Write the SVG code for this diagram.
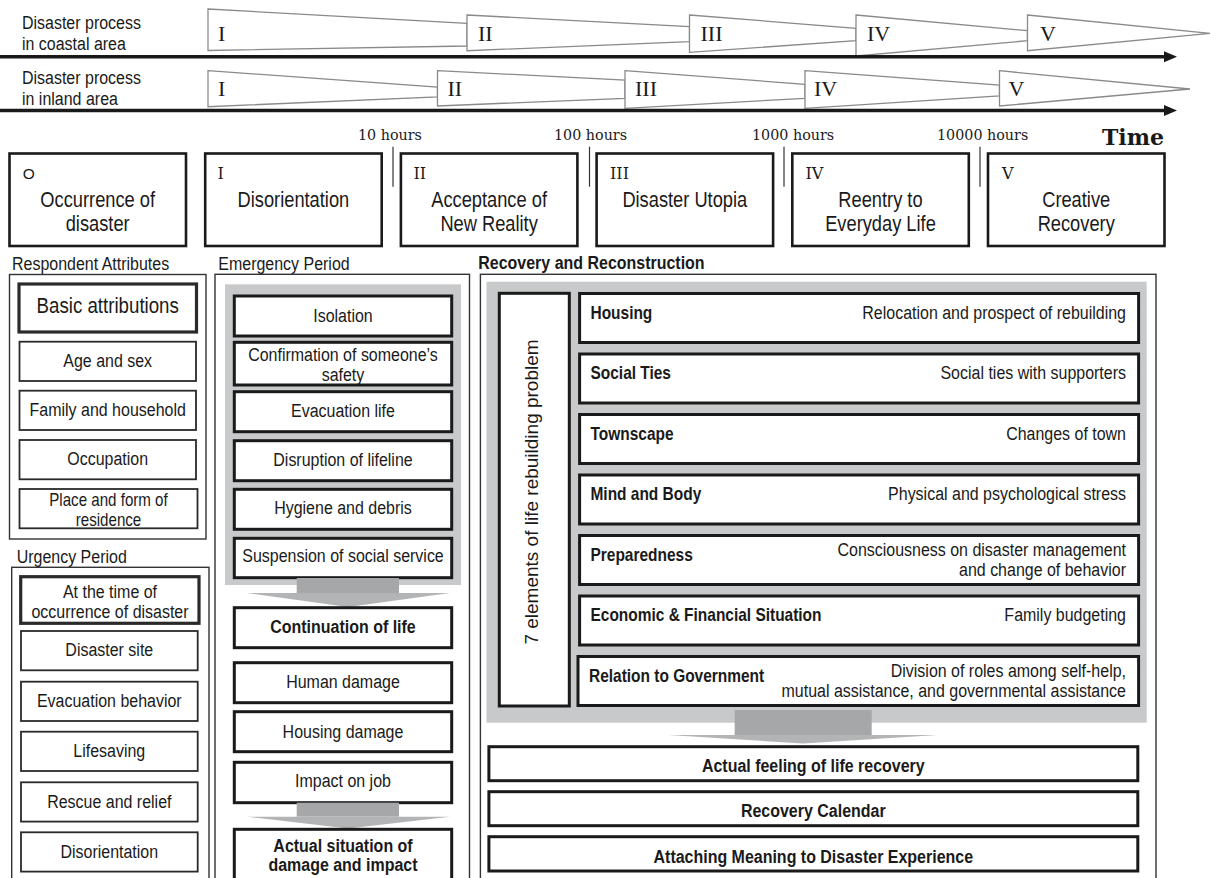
<svg xmlns="http://www.w3.org/2000/svg" width="1211" height="878" viewBox="0 0 1211 878">
<style>
.sans{font-family:"Liberation Sans",Arial,sans-serif;fill:#1a1a1a}
.lbl{font-family:"Liberation Sans",Arial,sans-serif;font-size:18.8px;fill:#1a1a1a}
.lblb{font-family:"Liberation Sans",Arial,sans-serif;font-size:18.8px;font-weight:bold;fill:#1a1a1a}
.rn{font-family:"Liberation Serif","Times New Roman",serif;font-size:22px;fill:#1a1a1a}
.dser{font-family:"DejaVu Serif",serif;fill:#1a1a1a}
.hrs{font-family:"DejaVu Serif",serif;font-size:14.3px;fill:#1a1a1a}
.pn{font-family:"DejaVu Serif",serif;font-size:16px;fill:#1a1a1a}
.ph{font-family:"Liberation Sans",Arial,sans-serif;font-size:21.5px;text-anchor:middle;fill:#1a1a1a}
.wedge{fill:#fff;stroke:#8a8a8a;stroke-width:1.3}
.pbox{fill:#fff;stroke:#1a1a1a;stroke-width:2.6}
.panel{fill:none;stroke:#333;stroke-width:1.4}
.box{fill:#fff;stroke:#2a2a2a;stroke-width:1.8}
.tbox{fill:#fff;stroke:#1a1a1a;stroke-width:3}
.t{font-family:"Liberation Sans",Arial,sans-serif;font-size:18.8px;text-anchor:middle;fill:#1a1a1a}
.tb{font-family:"Liberation Sans",Arial,sans-serif;font-size:18.8px;font-weight:bold;text-anchor:middle;fill:#1a1a1a}
.big{font-family:"Liberation Sans",Arial,sans-serif;font-size:22px;text-anchor:middle;fill:#1a1a1a}
.vt{font-family:"Liberation Sans",Arial,sans-serif;font-size:19px;text-anchor:middle;fill:#1a1a1a}
.e{font-family:"Liberation Sans",Arial,sans-serif;font-size:18.8px;text-anchor:end;fill:#1a1a1a}
.et{font-family:"Liberation Sans",Arial,sans-serif;font-size:18.2px;font-weight:bold;fill:#1a1a1a}
.gray{fill:#c8c9ca}
.stem{fill:#a6a7a8}
.head{fill:#b3b4b5}
.tick{stroke:#333;stroke-width:1.2}
.axis{stroke:#1a1a1a;stroke-width:3.5}
</style>

<g id="timeline-coastal">
<text class="lbl" transform="scale(0.85,1)" x="25.88" y="29">Disaster process</text>
<text class="lbl" transform="scale(0.85,1)" x="25.88" y="50">in coastal area</text>
<polygon class="wedge" points="208,9 467,23.3 467,46 208,50.5"/>
<polygon class="wedge" points="467,15 689.5,26.7 689.5,41.7 467,50.7"/>
<polygon class="wedge" points="689.5,15 856,28.3 856,40.7 689.5,52.3"/>
<polygon class="wedge" points="856,15 1027.5,30.7 1027.5,40.7 856,56"/>
<polygon class="wedge" points="1027.5,15 1210,33.3 1027.5,50.7"/>
<text class="rn" x="218" y="41">I</text>
<text class="rn" x="478" y="41">II</text>
<text class="rn" x="700.5" y="41">III</text>
<text class="rn" x="867" y="41">IV</text>
<text class="rn" x="1040" y="41">V</text>
</g>

<g id="timeline-inland">
<text class="lbl" transform="scale(0.85,1)" x="25.88" y="84">Disaster process</text>
<text class="lbl" transform="scale(0.85,1)" x="25.88" y="105">in inland area</text>
<polygon class="wedge" points="208,70.7 437.5,87 437.5,97 208,106.7"/>
<polygon class="wedge" points="437.5,70.7 625,80 625,98.3 437.5,106"/>
<polygon class="wedge" points="625,70.7 805,84.3 805,98.3 625,108.3"/>
<polygon class="wedge" points="805,70.7 999.5,85 999.5,96 805,108.3"/>
<polygon class="wedge" points="999.5,70.7 1190,89 999.5,106"/>
<text class="rn" x="218" y="95.5">I</text>
<text class="rn" x="447.5" y="95.5">II</text>
<text class="rn" x="635" y="95.5">III</text>
<text class="rn" x="814" y="95.5">IV</text>
<text class="rn" x="1008.5" y="95.5">V</text>
</g>

<g id="connectors">
<line class="axis" x1="0" y1="56.8" x2="1167" y2="56.8"/>
<polygon points="1164,51.3 1177,56.8 1164,62.3" fill="#1a1a1a"/>
<line class="axis" x1="0" y1="110.5" x2="1167" y2="110.5"/>
<polygon points="1164,105 1177,110.5 1164,116" fill="#1a1a1a"/>
<line class="tick" x1="393" y1="146.7" x2="393" y2="186.7"/>
<line class="tick" x1="589.5" y1="146.7" x2="589.5" y2="186.7"/>
<line class="tick" x1="784" y1="146.7" x2="784" y2="186.7"/>
<line class="tick" x1="980" y1="146.7" x2="980" y2="186.7"/>
</g>

<g id="time-scale">
<text class="hrs" x="358" y="140">10 hours</text>
<text class="hrs" x="554" y="140">100 hours</text>
<text class="hrs" x="752" y="140">1000 hours</text>
<text class="hrs" x="937" y="140">10000 hours</text>
<text class="dser" style="font-size:22px;font-weight:bold" text-anchor="end" x="1164" y="145">Time</text>
</g>

<g id="phase-0">
<rect class="pbox" x="9.5" y="153.5" width="176.5" height="92.5"/>
<text class="sans" style="font-size:15.5px" x="22.7" y="178.5">O</text>
<text class="ph" transform="scale(0.85,1)" x="114.94" y="206.7">Occurrence of</text>
<text class="ph" transform="scale(0.85,1)" x="114.94" y="230.7">disaster</text>
</g>
<g id="phase-1">
<rect class="pbox" x="205.2" y="153.5" width="176.5" height="92.5"/>
<text class="pn" x="217.5" y="178.5">I</text>
<text class="ph" transform="scale(0.85,1)" x="345.18" y="206.7">Disorientation</text>
</g>
<g id="phase-2">
<rect class="pbox" x="400.9" y="153.5" width="176.5" height="92.5"/>
<text class="pn" x="413.5" y="178.5">II</text>
<text class="ph" transform="scale(0.85,1)" x="575.41" y="206.7">Acceptance of</text>
<text class="ph" transform="scale(0.85,1)" x="575.41" y="230.7">New Reality</text>
</g>
<g id="phase-3">
<rect class="pbox" x="596.6" y="153.5" width="176.5" height="92.5"/>
<text class="pn" x="610" y="178.5">III</text>
<text class="ph" transform="scale(0.85,1)" x="805.65" y="206.7">Disaster Utopia</text>
</g>
<g id="phase-4">
<rect class="pbox" x="792.3" y="153.5" width="176.5" height="92.5"/>
<text class="pn" x="805.5" y="178.5">IV</text>
<text class="ph" transform="scale(0.85,1)" x="1035.88" y="206.7">Reentry to</text>
<text class="ph" transform="scale(0.85,1)" x="1035.88" y="230.7">Everyday Life</text>
</g>
<g id="phase-5">
<rect class="pbox" x="988" y="153.5" width="176.5" height="92.5"/>
<text class="pn" x="1002" y="178.5">V</text>
<text class="ph" transform="scale(0.85,1)" x="1266.12" y="206.7">Creative</text>
<text class="ph" transform="scale(0.85,1)" x="1266.12" y="230.7">Recovery</text>
</g>

<g id="respondent-attributes">
<text class="lbl" transform="scale(0.85,1)" x="14.12" y="270">Respondent Attributes</text>
<rect class="panel" x="9.5" y="274.5" width="196.5" height="264.5"/>
<rect class="box" x="19" y="284" width="177.5" height="48" style="stroke-width:3.2"/>
<text class="big" transform="scale(0.85,1)" x="126.71" y="313.3">Basic attributions</text>
<rect class="box" x="19.5" y="341.7" width="176.5" height="39.3"/>
<text class="t" transform="scale(0.85,1)" x="126.71" y="366.7">Age and sex</text>
<rect class="box" x="19.5" y="390.7" width="176.5" height="39.3"/>
<text class="t" transform="scale(0.85,1)" x="126.71" y="415.7">Family and household</text>
<rect class="box" x="19.5" y="440" width="176.5" height="39.3"/>
<text class="t" transform="scale(0.85,1)" x="126.71" y="465">Occupation</text>
<rect class="box" x="19.5" y="489" width="178" height="39.3"/>
<text class="t" style="font-size:17.8px" transform="scale(0.85,1)" x="127.65" y="506.5">Place and form of</text>
<text class="t" style="font-size:17.8px" transform="scale(0.85,1)" x="127.65" y="526">residence</text>
</g>

<g id="urgency-period">
<text class="lbl" transform="scale(0.85,1)" x="19.65" y="563">Urgency Period</text>
<rect class="panel" x="11.7" y="567.3" width="197.3" height="330"/>
<rect class="box" x="20.7" y="576.7" width="178.3" height="46.6" style="stroke-width:3.2"/>
<text class="t" transform="scale(0.85,1)" x="129.41" y="598.3">At the time of</text>
<text class="t" transform="scale(0.85,1)" x="129.41" y="617.7">occurrence of disaster</text>
<rect class="box" x="21" y="631" width="176.7" height="39.3"/>
<text class="t" transform="scale(0.85,1)" x="128.59" y="655.7">Disaster site</text>
<rect class="box" x="21" y="681.7" width="176.7" height="39.3"/>
<text class="t" transform="scale(0.85,1)" x="128.59" y="706.7">Evacuation behavior</text>
<rect class="box" x="21" y="731.7" width="176.7" height="39.3"/>
<text class="t" transform="scale(0.85,1)" x="128.59" y="756.7">Lifesaving</text>
<rect class="box" x="21" y="782.3" width="176.7" height="39.3"/>
<text class="t" transform="scale(0.85,1)" x="128.59" y="808.3">Rescue and relief</text>
<rect class="box" x="21" y="832.3" width="176.7" height="39.3"/>
<text class="t" transform="scale(0.85,1)" x="128.59" y="857.7">Disorientation</text>
</g>

<g id="emergency-period">
<text class="lbl" transform="scale(0.85,1)" x="256.82" y="270">Emergency Period</text>
<rect class="panel" x="215" y="274.3" width="254.5" height="630"/>
<rect class="gray" x="225" y="284.3" width="236" height="300.7"/>
<rect class="tbox" x="234.3" y="296" width="217.4" height="40"/>
<text class="t" transform="scale(0.85,1)" x="403.53" y="321.7">Isolation</text>
<rect class="tbox" x="234.3" y="342.3" width="217.4" height="42.7"/>
<text class="t" transform="scale(0.85,1)" x="403.53" y="361">Confirmation of someone’s</text>
<text class="t" transform="scale(0.85,1)" x="403.53" y="381">safety</text>
<rect class="tbox" x="234.3" y="391.7" width="217.4" height="40"/>
<text class="t" transform="scale(0.85,1)" x="403.53" y="416.7">Evacuation life</text>
<rect class="tbox" x="234.3" y="440.7" width="217.4" height="40"/>
<text class="t" transform="scale(0.85,1)" x="403.53" y="465.7">Disruption of lifeline</text>
<rect class="tbox" x="234.3" y="489.3" width="217.4" height="40"/>
<text class="t" transform="scale(0.85,1)" x="403.53" y="514.3">Hygiene and debris</text>
<rect class="tbox" x="234.3" y="538.3" width="217.4" height="39.4"/>
<text class="t" transform="scale(0.85,1)" x="403.53" y="561.7">Suspension of social service</text>
<rect class="stem" x="296.7" y="578" width="102.3" height="15"/>
<polygon class="head" points="246.7,593 450,593 348,607"/>
<rect class="tbox" x="234.3" y="607.7" width="217.4" height="40"/>
<text class="tb" transform="scale(0.85,1)" x="403.53" y="633.3">Continuation of life</text>
<rect class="tbox" x="234.3" y="662.7" width="217.4" height="40"/>
<text class="t" transform="scale(0.85,1)" x="403.53" y="688.3">Human damage</text>
<rect class="tbox" x="234.3" y="711.7" width="217.4" height="40"/>
<text class="t" transform="scale(0.85,1)" x="403.53" y="737.7">Housing damage</text>
<rect class="tbox" x="234.3" y="762.3" width="217.4" height="40.4"/>
<text class="t" transform="scale(0.85,1)" x="403.53" y="787.3">Impact on job</text>
<rect class="stem" x="296.7" y="802.7" width="102.3" height="14"/>
<polygon class="head" points="246.7,816.7 450,816.7 348,828.5"/>
<rect class="tbox" x="234.3" y="829.3" width="217.4" height="60"/>
<text class="tb" transform="scale(0.85,1)" x="403.53" y="851.7">Actual situation of</text>
<text class="tb" transform="scale(0.85,1)" x="403.53" y="871">damage and impact</text>
</g>

<g id="recovery-reconstruction">
<text class="lblb" transform="scale(0.85,1)" x="562.7" y="269">Recovery and Reconstruction</text>
<rect class="panel" x="480.4" y="274.3" width="675.6" height="630"/>
<rect class="gray" x="486.5" y="281.7" width="660.2" height="441"/>
<rect class="tbox" x="499.3" y="293.3" width="70" height="412.7"/>
<text class="vt" transform="translate(538,492) rotate(-90)">7 elements of life rebuilding problem</text>

<rect class="tbox" x="579.6" y="293.5" width="559" height="49"/>
<text class="et" transform="scale(0.85,1)" x="694.71" y="319">Housing</text>
<text class="e" transform="scale(0.85,1)" x="1324.71" y="319">Relocation and prospect of rebuilding</text>

<rect class="tbox" x="579.6" y="354" width="559" height="49"/>
<text class="et" transform="scale(0.85,1)" x="694.71" y="379.5">Social Ties</text>
<text class="e" transform="scale(0.85,1)" x="1324.71" y="379.5">Social ties with supporters</text>

<rect class="tbox" x="579.6" y="414.5" width="559" height="49"/>
<text class="et" transform="scale(0.85,1)" x="694.71" y="440">Townscape</text>
<text class="e" transform="scale(0.85,1)" x="1324.71" y="440">Changes of town</text>

<rect class="tbox" x="579.6" y="475" width="559" height="49"/>
<text class="et" transform="scale(0.85,1)" x="694.71" y="500.5">Mind and Body</text>
<text class="e" transform="scale(0.85,1)" x="1324.71" y="500.5">Physical and psychological stress</text>

<rect class="tbox" x="579.6" y="535.5" width="559" height="49"/>
<text class="et" transform="scale(0.85,1)" x="694.71" y="561">Preparedness</text>
<text class="e" transform="scale(0.85,1)" x="1324.71" y="556.5">Consciousness on disaster management</text>
<text class="e" transform="scale(0.85,1)" x="1324.71" y="576.5">and change of behavior</text>

<rect class="tbox" x="579.6" y="596" width="559" height="49"/>
<text class="et" transform="scale(0.85,1)" x="694.71" y="621.5">Economic &amp; Financial Situation</text>
<text class="e" transform="scale(0.85,1)" x="1324.71" y="621.5">Family budgeting</text>

<rect class="tbox" x="578" y="656.5" width="560.6" height="49"/>
<text class="et" transform="scale(0.85,1)" x="692.94" y="682">Relation to Government</text>
<text class="e" transform="scale(0.85,1)" x="1324.71" y="677">Division of roles among self-help,</text>
<text class="e" transform="scale(0.85,1)" x="1324.71" y="697">mutual assistance, and governmental assistance</text>

<rect class="stem" x="734.7" y="710" width="137" height="25"/>
<polygon class="head" points="668.5,735 937.9,735 803.2,743.5"/>

<rect class="tbox" x="488.9" y="746.7" width="648.9" height="34"/>
<text class="tb" transform="scale(0.85,1)" x="956.82" y="771.7">Actual feeling of life recovery</text>
<rect class="tbox" x="488.9" y="791.7" width="648.9" height="34"/>
<text class="tb" transform="scale(0.85,1)" x="956.82" y="817.3">Recovery Calendar</text>
<rect class="tbox" x="488.9" y="836.7" width="648.9" height="34.3"/>
<text class="tb" transform="scale(0.85,1)" x="956.82" y="862.7">Attaching Meaning to Disaster Experience</text>
</g>
</svg>
